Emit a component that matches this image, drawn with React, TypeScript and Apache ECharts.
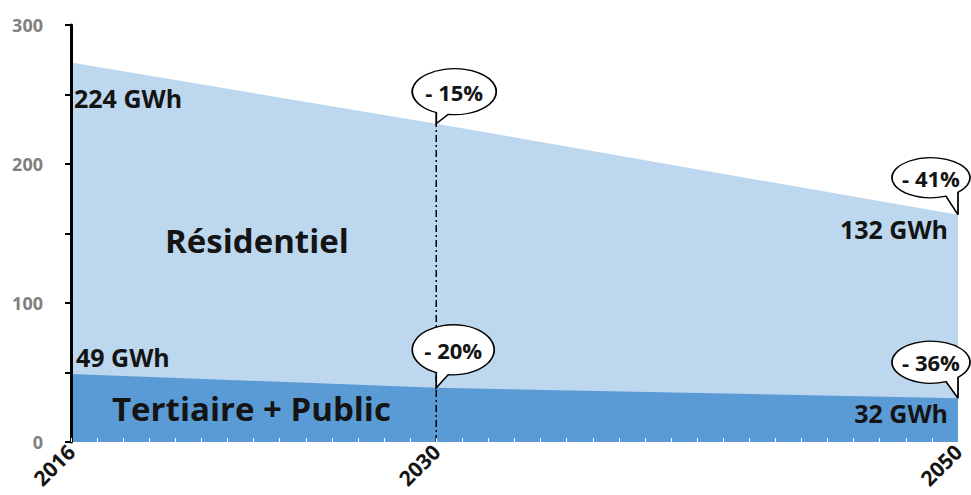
import React, { useEffect, useRef } from "react";
import * as echarts from "echarts";

const years = [2016, 2030, 2050];
const residentiel = [224, 190, 132];
const tertiaire = [49, 39, 31.5];
const seriesNames = ["Tertiaire + Public", "Résidentiel"];
const labelYears = [2016, 2030, 2050];

const FONT = "'Open Sans', 'DejaVu Sans', sans-serif";
const INK = "#141414";

function bubble(rx: number, ry: number, tdx: number, tdy: number) {
  const tw = 12;
  const xa = tdx < 0 ? tdx + tw : tdx;
  const xb = tdx < 0 ? tdx : tdx - tw;
  const yb = (x: number) => ry * Math.sqrt(Math.max(0, 1 - (x / rx) * (x / rx)));
  const X = (x: number) => (x + rx).toFixed(2);
  const Y = (y: number) => (y + ry).toFixed(2);
  const path = `path://M${X(xa)} ${Y(yb(xa))} A${rx} ${ry} 0 1 0 ${X(xb)} ${Y(yb(xb))} L${X(tdx)} ${Y(tdy)} Z`;
  const W = 2 * rx;
  const H = ry + tdy;
  return {
    symbol: path,
    symbolSize: [W, H],
    symbolOffset: [W / 2 - (tdx + rx), H / 2 - (tdy + ry)],
    labelOffset: [0, (ry - tdy) / 2],
  };
}

const pct = (v: number, v0: number) => `- ${Math.round((1 - v / v0) * 100)}%`;

export default function App() {
  const ref = useRef<HTMLDivElement>(null);
  useEffect(() => {
    if (!ref.current) return;
    const chart = echarts.init(ref.current, null, { renderer: "svg" });
    const total = years.map((_, i) => residentiel[i] + tertiaire[i]);
    const last = years.length - 1;

    const bubbleSpecs = [
      { x: years[1], y: total[1], text: pct(residentiel[1], residentiel[0]), g: bubble(42, 23, -18, 32) },
      { x: years[1], y: tertiaire[1], text: pct(tertiaire[1], tertiaire[0]), g: bubble(41, 25, -17, 38) },
      { x: years[last], y: total[last], text: pct(residentiel[last], residentiel[0]), g: bubble(39, 20, 27, 37) },
      { x: years[last], y: tertiaire[last], text: pct(tertiaire[last], tertiaire[0]), g: bubble(39, 21, 27, 36) },
    ];

    const textStyle = (size: number) => ({
      fill: INK,
      fontFamily: FONT,
      fontWeight: "bold" as const,
      fontSize: size,
    });

    chart.setOption({
      animation: false,
      grid: { left: 71, right: 13, top: 25, bottom: 53 },
      xAxis: {
        type: "value",
        min: 2016,
        max: 2050,
        interval: 1,
        z: 10,
        axisLine: { show: false },
        splitLine: { show: false },
        axisTick: { show: true, inside: true, length: 4, lineStyle: { color: "#ffffff", width: 1 } },
        axisLabel: {
          rotate: 45,
          margin: 6,
          color: INK,
          fontFamily: FONT,
          fontWeight: "bold",
          fontSize: 21,
          showMinLabel: true,
          showMaxLabel: true,
          formatter: (v: number) => (labelYears.includes(v) ? String(v) : ""),
        },
      },
      yAxis: {
        type: "value",
        min: 0,
        max: 300,
        interval: 50,
        z: 10,
        splitLine: { show: false },
        axisLine: { show: true, lineStyle: { color: "#000", width: 3 } },
        axisTick: { show: true, length: 6, lineStyle: { color: "#000", width: 2 } },
        axisLabel: {
          margin: 28,
          color: "#808080",
          fontFamily: FONT,
          fontWeight: "bold",
          fontSize: 18,
          formatter: (v: number) => (v % 100 === 0 ? String(v) : ""),
        },
      },
      series: [
        {
          name: seriesNames[1],
          type: "line",
          data: years.map((y, i) => [y, total[i]]),
          showSymbol: false,
          symbol: "none",
          lineStyle: { width: 0 },
          areaStyle: { color: "#BDD7EE", opacity: 1 },
          z: 1,
        },
        {
          name: seriesNames[0],
          type: "line",
          data: years.map((y, i) => [y, tertiaire[i]]),
          showSymbol: false,
          symbol: "none",
          lineStyle: { width: 0 },
          areaStyle: { color: "#5B9BD5", opacity: 1 },
          z: 2,
        },
        {
          type: "line",
          data: [
            [years[1], 0],
            [years[1], total[1]],
          ],
          symbol: "none",
          lineStyle: { color: "#000", width: 1.5, type: [7, 3, 2, 3] },
          z: 3,
        },
        {
          type: "scatter",
          z: 5,
          data: bubbleSpecs.map((b) => ({
            value: [b.x, b.y],
            symbol: b.g.symbol,
            symbolSize: b.g.symbolSize,
            symbolOffset: b.g.symbolOffset,
            label: {
              show: true,
              position: "inside",
              offset: b.g.labelOffset,
              formatter: b.text,
              color: INK,
              fontFamily: FONT,
              fontWeight: "bold",
              fontSize: 22,
            },
          })),
          itemStyle: { color: "#ffffff", borderColor: "#000", borderWidth: 1.5, opacity: 1 },
          emphasis: { disabled: true },
        },
      ],
      graphic: [
        { type: "text", left: 74, top: 85, z: 10, style: { text: `${residentiel[0]} GWh`, ...textStyle(25) } },
        { type: "text", left: 76, top: 344, z: 10, style: { text: `${tertiaire[0]} GWh`, ...textStyle(25) } },
        { type: "text", right: 23, top: 216, z: 10, style: { text: `${Math.round(residentiel[last])} GWh`, ...textStyle(25) } },
        { type: "text", right: 23, top: 400, z: 10, style: { text: `${Math.round(tertiaire[last])} GWh`, ...textStyle(25) } },
        { type: "text", left: 165, top: 224, z: 10, style: { text: seriesNames[1], ...textStyle(33) } },
        { type: "text", left: 112, top: 392, z: 10, style: { text: seriesNames[0], ...textStyle(33) } },
      ],
    });
    return () => chart.dispose();
  }, []);
  return (
    <div
      ref={ref}
      style={{ position: "fixed", left: 0, top: 0, width: 971, height: 495, background: "#fff" }}
    />
  );
}
